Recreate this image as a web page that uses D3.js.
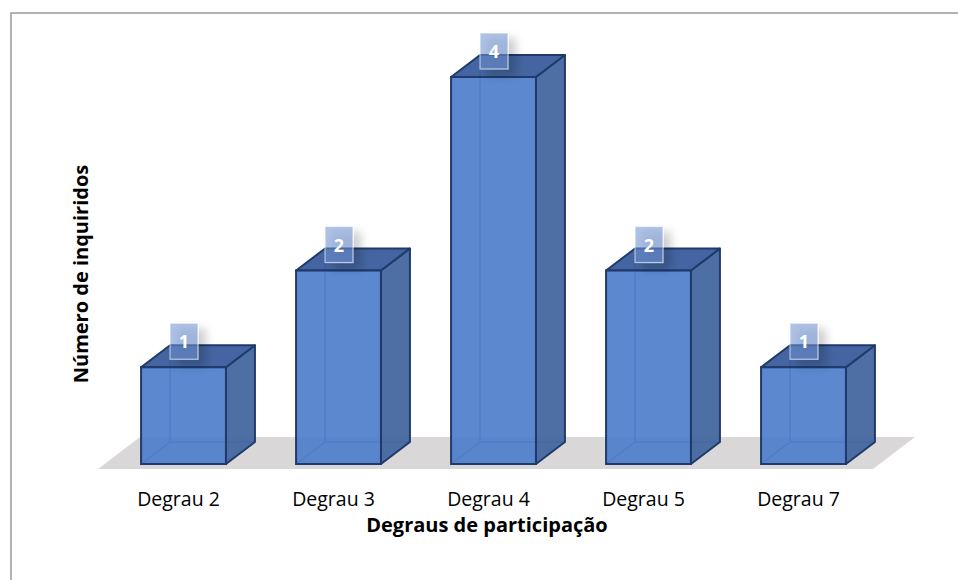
<!DOCTYPE html>
<html>
<head>
<meta charset="utf-8">
<script src="https://cdn.jsdelivr.net/npm/d3@7"></script>
<style>
  html, body { margin: 0; padding: 0; background: #fff; }
  svg { display: block; }
</style>
</head>
<body>
<svg id="chart" width="958" height="580"></svg>
<script>
const categories = ["Degrau 2", "Degrau 3", "Degrau 4", "Degrau 5", "Degrau 7"];
const values = [1, 2, 4, 2, 1];
const xTitle = "Degraus de participação";
const yTitle = "Número de inquiridos";

const FONT = "'Open Sans', 'Noto Sans', sans-serif";
const svg = d3.select("#chart");
const W = 958, H = 580;

// frame
svg.append("path")
  .attr("d", `M11,${H + 5} L11,13 L${W + 5},13`)
  .attr("fill", "none").attr("stroke", "#9a9a9a").attr("stroke-width", 1.5);

const x = d3.scaleBand().domain(categories).range([106, 881]).paddingInner(0.4525).paddingOuter(0.2263);
const y = d3.scaleLinear().domain([0, 4]).range([464, 77]);

const DX = 29, DY = 22; // bar depth offset

const defs = svg.append("defs");
const f = defs.append("filter").attr("id", "sh").attr("x", "-60%").attr("y", "-60%").attr("width", "260%").attr("height", "260%");
f.append("feGaussianBlur").attr("in", "SourceAlpha").attr("stdDeviation", 5).attr("result", "b");
f.append("feOffset").attr("in", "b").attr("dx", 7).attr("dy", 6).attr("result", "o");
f.append("feComponentTransfer").attr("in", "o").attr("result", "o2")
  .append("feFuncA").attr("type", "linear").attr("slope", 0.35);
const m = f.append("feMerge");
m.append("feMergeNode").attr("in", "o2");
m.append("feMergeNode").attr("in", "SourceGraphic");

// floor
const fl0 = x.range()[0] - 8, fl1 = x.range()[1] - 8, fy = y(0) + 5;
const FDX = 42, FDY = 32;
svg.append("polygon")
  .attr("points", [[fl0, fy], [fl1, fy], [fl1 + FDX, fy - FDY], [fl0 + FDX, fy - FDY]].map(p => p.join(",")).join(" "))
  .attr("fill", "#d9d7d7");

const edge = "#1f3a6b";
const bars = svg.append("g");
categories.forEach((c, i) => {
  const v = values[i];
  const x0 = x(c), x1 = x(c) + x.bandwidth();
  const yt = y(v), yb = y(0);
  const g = bars.append("g");
  // hidden back edges
  g.append("path")
    .attr("d", `M${x0 + DX},${yt - DY} L${x0 + DX},${yb - DY} L${x1 + DX},${yb - DY} M${x0 + DX},${yb - DY} L${x0},${yb}`)
    .attr("fill", "none").attr("stroke", "#3b64a8").attr("stroke-width", 1.5);
  // side face
  g.append("polygon")
    .attr("points", [[x1, yt], [x1 + DX, yt - DY], [x1 + DX, yb - DY], [x1, yb]].map(p => p.join(",")).join(" "))
    .attr("fill", "#44679f").attr("fill-opacity", 0.95)
    .attr("stroke", edge).attr("stroke-width", 2).attr("stroke-linejoin", "round");
  // top face
  g.append("polygon")
    .attr("points", [[x0, yt], [x0 + DX, yt - DY], [x1 + DX, yt - DY], [x1, yt]].map(p => p.join(",")).join(" "))
    .attr("fill", "#3a5d9c").attr("fill-opacity", 0.95)
    .attr("stroke", edge).attr("stroke-width", 2).attr("stroke-linejoin", "round");
  // front face
  g.append("rect")
    .attr("x", x0).attr("y", yt).attr("width", x1 - x0).attr("height", yb - yt)
    .attr("fill", "#4f7fcb").attr("fill-opacity", 0.93)
    .attr("stroke", edge).attr("stroke-width", 2);
});

// data labels
const labels = svg.append("g");
categories.forEach((c, i) => {
  const v = values[i];
  const cx = x(c) + x.bandwidth() / 2 + 0.5;
  const bottom = y(v) - DY / 2 + 3;
  const bw = 28, bh = 36;
  labels.append("rect")
    .attr("x", cx - bw / 2).attr("y", bottom - bh).attr("width", bw).attr("height", bh)
    .attr("fill", "rgb(110,145,210)").attr("fill-opacity", 0.55)
    .attr("stroke", "rgba(255,255,255,0.6)").attr("stroke-width", 1.2)
    .attr("filter", "url(#sh)");
  labels.append("text")
    .attr("x", cx).attr("y", bottom - bh + 25)
    .attr("text-anchor", "middle")
    .attr("font-family", FONT).attr("font-weight", "bold")
    .attr("font-size", 18).attr("fill", "#fff")
    .text(v);
});

// category labels
svg.append("g").selectAll("text").data(categories).join("text")
  .attr("x", d => x(d) + x.bandwidth() / 2 - 5)
  .attr("y", 506)
  .attr("text-anchor", "middle")
  .attr("font-family", FONT).attr("font-size", 19.5)
  .attr("fill", "#000")
  .text(d => d);

// axis titles
svg.append("text")
  .attr("x", 487).attr("y", 532)
  .attr("text-anchor", "middle")
  .attr("font-family", FONT).attr("font-weight", "bold").attr("font-size", 20)
  .attr("fill", "#000")
  .text(xTitle);

svg.append("text")
  .attr("transform", "translate(88,274) rotate(-90)")
  .attr("text-anchor", "middle")
  .attr("font-family", FONT).attr("font-weight", "bold").attr("font-size", 20)
  .attr("fill", "#000")
  .text(yTitle);
</script>
</body>
</html>
